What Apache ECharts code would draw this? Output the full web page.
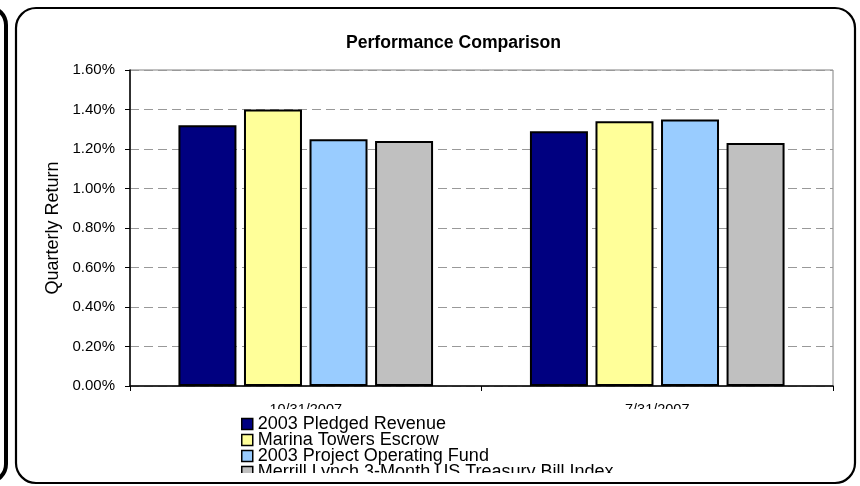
<!DOCTYPE html>
<html><head><meta charset="utf-8">
<script src="https://cdn.jsdelivr.net/npm/echarts@6/dist/echarts.min.js"></script>
<style>html,body{margin:0;padding:0;background:#fff}#c{width:860px;height:486px}</style>
</head><body><div id="c"></div>
<script>
var categories = ['10/31/2007', '7/31/2007'];
var seriesNames = ['2003 Pledged Revenue', 'Marina Towers Escrow', '2003 Project Operating Fund', 'Merrill Lynch 3-Month US Treasury Bill Index'];
var pledgedRevenue = [1.32, 1.29];
var marinaEscrow = [1.40, 1.34];
var projectOperating = [1.25, 1.35];
var merrillTBill = [1.24, 1.23];
var yTicks = [0, 0.2, 0.4, 0.6, 0.8, 1.0, 1.2, 1.4, 1.6];

var colors = ['#000080', '#FFFF99', '#99CCFF', '#C0C0C0'];
var seriesData = [pledgedRevenue, marinaEscrow, projectOperating, merrillTBill];
var FONT = '"Liberation Sans", Arial, sans-serif';

var chart = echarts.init(document.getElementById('c'), null, {renderer: 'canvas'});
chart.setOption({
  animation: false,
  backgroundColor: '#fff',
  title: {
    text: 'Performance Comparison',
    left: 346, top: 34, padding: 0,
    textStyle: {fontFamily: FONT, fontSize: 17.6, fontWeight: 'bold', color: '#000'}
  },
  grid: {left: 130, right: 27, top: 70, bottom: 100, show: true, borderColor: '#808080', borderWidth: 1, backgroundColor: 'transparent'},
  legend: {
    orient: 'vertical', left: 241, top: 410, height: 300, padding: [5, 0, 0, 0],
    itemWidth: 11, itemHeight: 11, itemGap: -2, icon: 'rect', z: 30,
    data: seriesNames,
    textStyle: {fontFamily: FONT, fontSize: 18, lineHeight: 16, color: '#000'},
    itemStyle: {borderColor: '#000', borderWidth: 1.5}
  },
  xAxis: {
    type: 'category', data: categories,
    axisLine: {lineStyle: {color: '#000', width: 1.5}},
    axisTick: {show: true, length: 5, lineStyle: {color: '#000'}},
    axisLabel: {margin: 16, fontFamily: FONT, fontSize: 14.5, color: '#000'}
  },
  yAxis: {
    type: 'value', min: yTicks[0], max: yTicks[yTicks.length - 1], interval: 0.2,
    name: 'Quarterly Return', nameLocation: 'middle', nameGap: 64,
    nameTextStyle: {fontFamily: FONT, fontSize: 18, color: '#000'},
    axisLine: {show: true, lineStyle: {color: '#000', width: 1.5}},
    axisTick: {show: true, length: 5, lineStyle: {color: '#000'}},
    axisLabel: {margin: 15, fontFamily: FONT, fontSize: 15, color: '#000',
      formatter: function (v) { return v.toFixed(2) + '%'; }},
    splitLine: {show: true, lineStyle: {color: '#999', type: [9, 5], width: 1}}
  },
  series: seriesNames.map(function (n, i) {
    return {
      name: n, type: 'bar', data: seriesData[i],
      barWidth: 58, barGap: '13%',
      itemStyle: {color: colors[i], borderColor: '#000', borderWidth: 2}
    };
  }),
  graphic: [
    {type: 'rect', z: 20, shape: {x: 140, y: 409, width: 690, height: 6}, style: {fill: '#fff'}},
    {type: 'rect', z: 40, shape: {x: 235, y: 473, width: 600, height: 13}, style: {fill: '#fff'}},
    {type: 'rect', z: 50, shape: {x: -100, y: 7, width: 106, height: 475, r: 18}, style: {fill: 'none', stroke: '#000', lineWidth: 4}},
    {type: 'rect', z: 50, shape: {x: 16, y: 8, width: 839, height: 475, r: 20}, style: {fill: 'none', stroke: '#000', lineWidth: 2.2}}
  ]
});
</script></body></html>
